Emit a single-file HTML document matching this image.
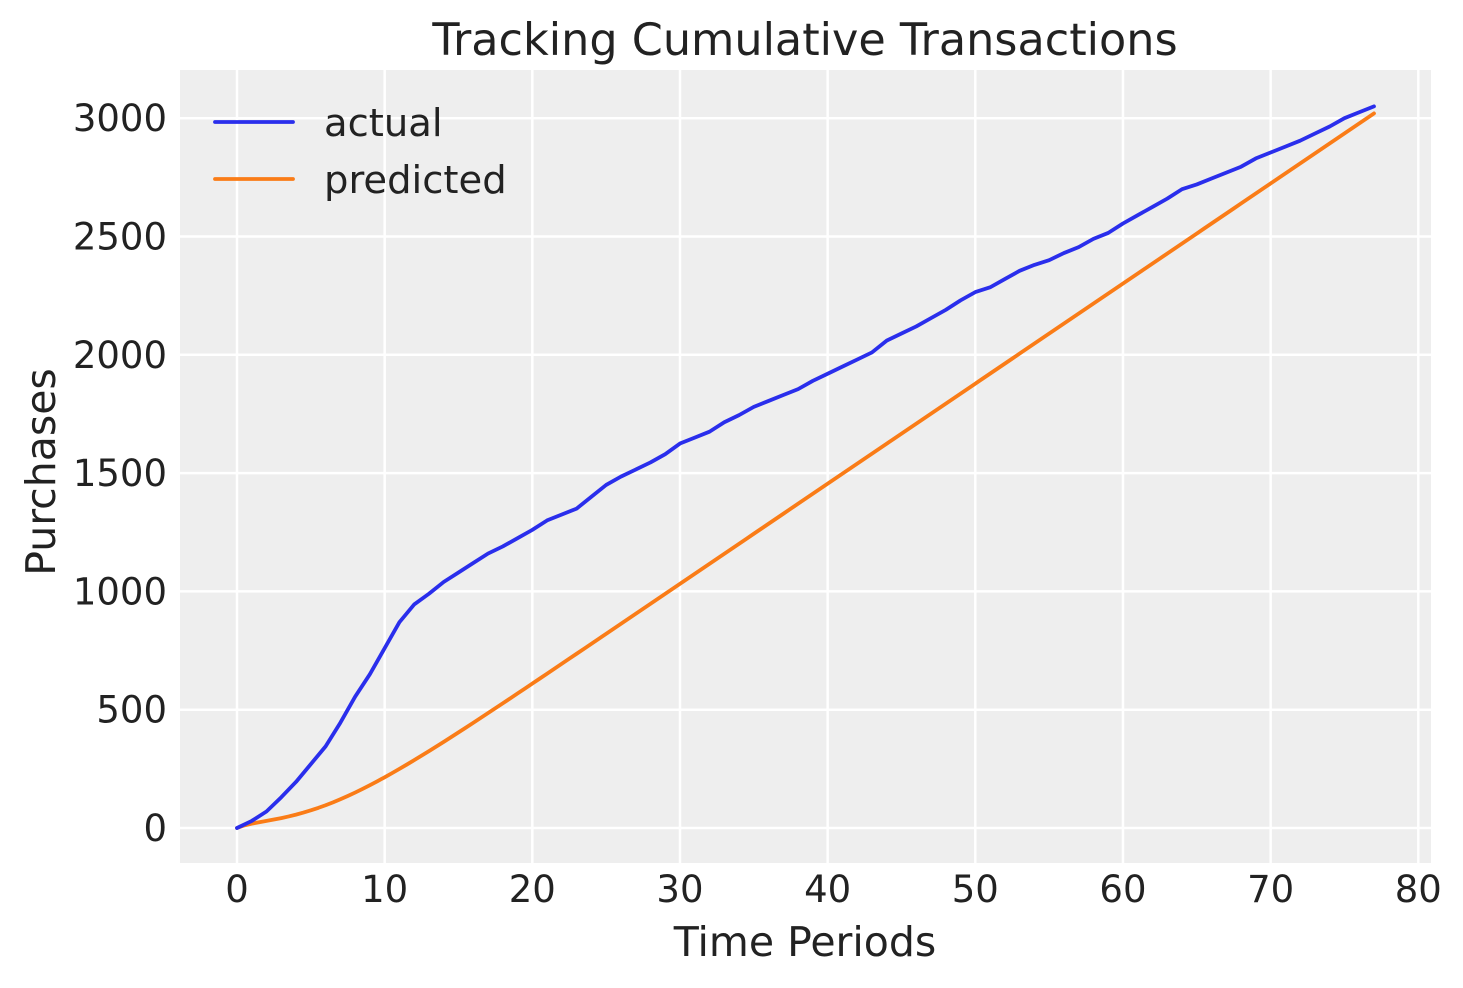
<!DOCTYPE html>
<html><head><meta charset="utf-8"><style>
body{margin:0;background:#fff}
svg text{font-family:"DejaVu Sans","Liberation Sans",sans-serif;fill:#222}
</style></head><body>
<svg id="s" width="1463" height="983" xmlns="http://www.w3.org/2000/svg">
<rect x="180" y="70" width="1251" height="793" fill="#eeeeee"/>
<g id="grid" stroke="#fff" stroke-width="2.5"></g>
<g id="lab"></g>
<polyline id="pa" fill="none" stroke="#fa7c17" stroke-width="3.8" stroke-linejoin="round" stroke-linecap="round"/>
<polyline id="aa" fill="none" stroke="#2a2eec" stroke-width="3.8" stroke-linejoin="round" stroke-linecap="round"/>
<line x1="215" y1="122" x2="293" y2="122" stroke="#2a2eec" stroke-width="3.8" stroke-linecap="round"/>
<line x1="215" y1="179" x2="293" y2="179" stroke="#fa7c17" stroke-width="3.8" stroke-linecap="round"/>
<text x="324" y="136" font-size="38.5">actual</text>
<text x="324" y="193" font-size="38.5">predicted</text>
<text x="805" y="55" font-size="44.5" text-anchor="middle">Tracking Cumulative Transactions</text>
<text x="805" y="956" font-size="41" text-anchor="middle">Time Periods</text>
<text transform="translate(55,472) rotate(-90)" font-size="41" text-anchor="middle">Purchases</text>
</svg>
<script>
var X=function(t){return 237+14.766*t},Y=function(v){return 828-0.2366*v};
var g=document.getElementById('grid'),l=document.getElementById('lab'),h='',k='';
for(var t=0;t<=80;t+=10){var x=X(t);h+='<line x1="'+x+'" y1="70" x2="'+x+'" y2="863"/>';k+='<text x="'+x+'" y="902" font-size="37" text-anchor="middle">'+t+'</text>';}
for(var v=0;v<=3000;v+=500){var y=Y(v);h+='<line x1="180" y1="'+y+'" x2="1431" y2="'+y+'"/>';k+='<text x="167" y="'+(y+13)+'" font-size="37" text-anchor="end">'+v+'</text>';}
g.innerHTML=h;l.innerHTML=k;
var a=[0,30,70,130,195,270,345,445,555,650,760,870,945,990,1040,1080,1120,1160,1190,1225,1260,1300,1325,1350,1400,1450,1485,1515,1545,1580,1625,1650,1675,1715,1745,1780,1805,1830,1855,1890,1920,1950,1980,2010,2060,2090,2120,2155,2190,2230,2265,2285,2320,2355,2380,2400,2430,2455,2490,2515,2555,2590,2625,2660,2700,2720,2745,2770,2795,2830,2855,2880,2905,2935,2965,3000,3025,3050];
var p=[],q=[];
for(var i=0;i<=77;i++){q.push(X(i)+','+Y(a[i]));}
for(var s=0;s<=77;s+=0.5){var v=42.3*s-42.3*5.6*(1-Math.exp(-Math.pow(s/5.6,1.3)));p.push(X(s)+','+Y(Math.max(0,v)));}
document.getElementById('aa').setAttribute('points',q.join(' '));
document.getElementById('pa').setAttribute('points',p.join(' '));
</script>
</body></html>
